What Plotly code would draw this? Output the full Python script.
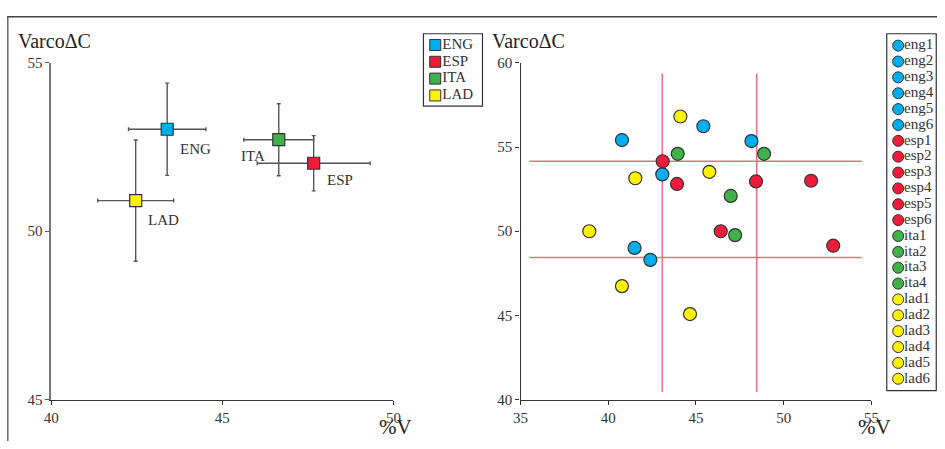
import plotly.graph_objects as go

W, H = 945, 449
FONT = "Liberation Serif"

# ---------------- data ----------------
groups = ["ENG", "ESP", "ITA", "LAD"]
group_colors = ["#00aeef", "#ed1c3a", "#3fb34a", "#fff200"]
# left panel: group means with error bars
mean_v = [43.39, 47.67, 46.65, 42.47]
mean_c = [53.03, 52.02, 52.72, 50.91]
err_v = [1.13, 1.65, 1.02, 1.11]
err_c = [1.37, 0.82, 1.07, 1.80]

# right panel: individual speakers
eng_v = [40.78, 45.42, 48.16, 43.08, 41.50, 42.40]
eng_c = [55.42, 56.24, 55.36, 53.38, 49.01, 48.30]
esp_v = [43.10, 43.92, 48.42, 51.56, 46.41, 52.82]
esp_c = [54.16, 52.81, 52.96, 53.00, 50.00, 49.14]
ita_v = [43.96, 48.88, 46.98, 47.23]
ita_c = [54.60, 54.60, 52.10, 49.77]
lad_v = [44.11, 41.54, 45.76, 38.92, 40.78, 44.66]
lad_c = [56.82, 53.15, 53.53, 50.00, 46.74, 45.08]
speaker_v = [eng_v, esp_v, ita_v, lad_v]
speaker_c = [eng_c, esp_c, ita_c, lad_c]
speaker_prefix = ["eng", "esp", "ita", "lad"]

# reference lines in right panel
ref_v = [43.08, 48.46]          # vertical lines (%V)
ref_c = [54.16, 48.44]          # horizontal lines (VarcoΔC)
ref_v_span = [35.5, 54.45]      # x extent of horizontal lines
ref_c_span = [40.45, 59.37]     # y extent of vertical lines

left_xticks = [40, 45, 50]
left_yticks = [45, 50, 55]
right_xticks = [35, 40, 45, 50, 55]
right_yticks = [40, 45, 50, 55, 60]

# ---------------- helpers: target picture pixel -> paper ----------------
# the photographed picture maps figure x to 7.87 + 0.9834*x (y unchanged)
SX, OX = 0.9834, 7.87

def px(x):
    return min(max((x - OX) / SX / W, 0.0), 1.0)

def py(y):
    return 1 - y / H

TICKC = "#333"

fig = go.Figure()

# ---- left panel ----
for g, col, x, y, ex, ey in zip(groups, group_colors, mean_v, mean_c, err_v, err_c):
    fig.add_trace(go.Scatter(
        x=[x], y=[y], mode="markers", name=g, showlegend=False,
        marker=dict(symbol="square", size=12, color=col, line=dict(color="#333", width=1.2)),
        error_x=dict(type="data", array=[ex], color="#555", thickness=1.4, width=2),
        error_y=dict(type="data", array=[ey], color="#555", thickness=1.4, width=2),
        xaxis="x", yaxis="y"))

label_offsets = {"ENG": (11, -20, "left"), "ESP": (11, -17, "left"),
                 "ITA": (-12, -16, "right"), "LAD": (10, -19, "left")}
annotations = []
for g, x, y in zip(groups, mean_v, mean_c):
    dx, dy, anc = label_offsets[g]
    annotations.append(dict(x=x, y=y, xref="x", yref="y", text=g, showarrow=False,
                            xanchor=anc, yanchor="middle", xshift=dx, yshift=dy,
                            font=dict(family=FONT, size=15, color="#333")))

# ---- right panel ----
shapes = []
for v in ref_v:
    shapes.append(dict(type="line", xref="x2", yref="y2", x0=v, x1=v,
                       y0=ref_c_span[0], y1=ref_c_span[1],
                       line=dict(color="#f07080", width=1.5), layer="below"))
for c in ref_c:
    shapes.append(dict(type="line", xref="x2", yref="y2", y0=c, y1=c,
                       x0=ref_v_span[0], x1=ref_v_span[1],
                       line=dict(color="#f07080", width=1.5), layer="below"))

legend_names = []
legend_colors = []
for pre, col, xs, ys in zip(speaker_prefix, group_colors, speaker_v, speaker_c):
    names = [f"{pre}{i+1}" for i in range(len(xs))]
    legend_names += names
    legend_colors += [col] * len(xs)
    fig.add_trace(go.Scatter(
        x=xs, y=ys, mode="markers", text=names, showlegend=False,
        marker=dict(symbol="circle", size=13, color=col, line=dict(color="#333", width=1.2)),
        xaxis="x2", yaxis="y2", hovertemplate="%{text}: %{x}, %{y}<extra></extra>"))

# ---- manual legends ----
# left legend (groups): x3 spans the box, 0..1
fig.add_trace(go.Scatter(
    x=[0.2] * len(groups), y=list(range(len(groups))), mode="markers", showlegend=False,
    marker=dict(symbol="square", size=11, color=group_colors, line=dict(color="#333", width=1)),
    xaxis="x3", yaxis="y3", hoverinfo="skip"))
fig.add_trace(go.Scatter(
    x=[0.32] * len(groups), y=list(range(len(groups))), mode="text", text=groups,
    textposition="middle right", showlegend=False,
    textfont=dict(family=FONT, size=15, color="#333"),
    xaxis="x3", yaxis="y3", hoverinfo="skip"))
# right legend (speakers): x4 spans the box, 0..1
n = len(legend_names)
fig.add_trace(go.Scatter(
    x=[0.23] * n, y=list(range(n)), mode="markers", showlegend=False,
    marker=dict(symbol="circle", size=11, color=legend_colors, line=dict(color="#333", width=1)),
    xaxis="x4", yaxis="y4", hoverinfo="skip"))
fig.add_trace(go.Scatter(
    x=[0.35] * n, y=list(range(n)), mode="text", text=legend_names,
    textposition="middle right", showlegend=False,
    textfont=dict(family=FONT, size=15, color="#333"),
    xaxis="x4", yaxis="y4", hoverinfo="skip"))

# legend boxes and frame
shapes.append(dict(type="rect", xref="paper", yref="paper", x0=px(424), x1=px(483),
                   y0=py(101.7), y1=py(26.7), line=dict(color="#333", width=1.2)))
shapes.append(dict(type="rect", xref="paper", yref="paper", x0=px(887), x1=0.9992,
                   y0=py(396.7), y1=py(26.7), line=dict(color="#333", width=1.2)))
shapes.append(dict(type="line", xref="paper", yref="paper", x0=0, x1=1,
                   y0=py(9), y1=py(9), line=dict(color="#444", width=1.5)))
shapes.append(dict(type="line", xref="paper", yref="paper", x0=0.8 / W, x1=0.8 / W,
                   y0=py(9), y1=0, line=dict(color="#666", width=1.5)))

# titles
for xl in (17, 491):
    annotations.append(dict(x=px(xl), y=py(34), xref="paper", yref="paper", text="VarcoΔC",
                            showarrow=False, xanchor="left", yanchor="middle",
                            font=dict(family=FONT, size=20, color="#222")))
for xc in (396.5, 874.5):
    annotations.append(dict(x=px(xc), y=py(434), xref="paper", yref="paper", text="%V",
                            showarrow=False, xanchor="center", yanchor="middle",
                            font=dict(family=FONT, size=21, color="#222")))

ax_common = dict(showline=True, ticks="outside", ticklen=4, tickwidth=1,
                 showgrid=False, zeroline=False, fixedrange=True,
                 tickfont=dict(family=FONT, size=15, color=TICKC))
ydom = [py(406), py(57)]

fig.update_layout(
    width=W, height=H, margin=dict(l=0, r=0, t=0, b=0),
    paper_bgcolor="white", plot_bgcolor="rgba(0,0,0,0)",
    showlegend=False,
    xaxis=dict(domain=[px(52), px(394)], range=[40, 50], tickvals=left_xticks,
               linecolor="#333", tickcolor="#333", anchor="y", linewidth=1.3, **ax_common),
    yaxis=dict(domain=ydom, range=[45, 55], tickvals=left_yticks,
               linecolor="#777", tickcolor="#555", anchor="x", linewidth=1.5, **ax_common),
    xaxis2=dict(domain=[px(521), px(871.7)], range=[35, 55], tickvals=right_xticks,
                linecolor="#333", tickcolor="#333", anchor="y2", linewidth=1.3, **ax_common),
    yaxis2=dict(domain=ydom, range=[40, 60], tickvals=right_yticks,
                linecolor="#333", tickcolor="#333", anchor="x2", linewidth=1.3, **ax_common),
    xaxis3=dict(domain=[px(424), px(483)], range=[0, 1], visible=False, anchor="y3", fixedrange=True),
    yaxis3=dict(domain=[py(99.4), py(29.6)], range=[3.5, -0.5], visible=False, anchor="x3", fixedrange=True),
    xaxis4=dict(domain=[px(887), 0.9992], range=[0, 1], visible=False, anchor="y4", fixedrange=True),
    yaxis4=dict(domain=[py(392.7), py(30.8)], range=[21.5, -0.5], visible=False, anchor="x4", fixedrange=True),
    shapes=shapes, annotations=annotations,
)

fig.write_html("out.html", config={"displayModeBar": False})
